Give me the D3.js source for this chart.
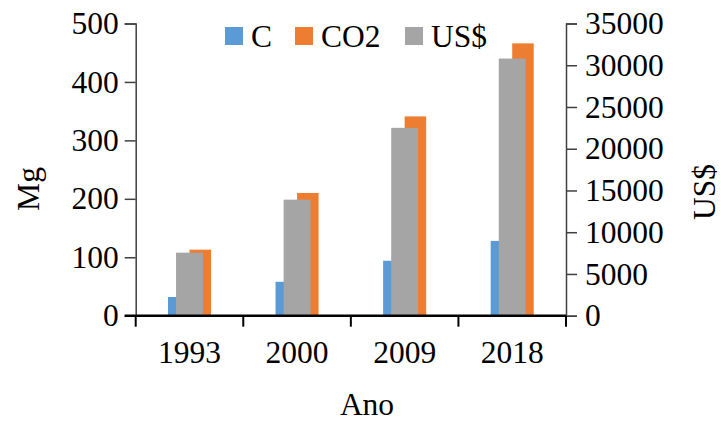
<!DOCTYPE html>
<html>
<head>
<meta charset="utf-8">
<script src="https://cdn.jsdelivr.net/npm/d3@7"></script>
<style>
  body { margin: 0; background: #fff; }
  text { font-family: "Liberation Serif", "Times New Roman", serif; fill: #000; }
</style>
</head>
<body>
<div id="main"></div>
<script>
let years = ["1993", "2000", "2009", "2018"];
let carbon = [32, 58, 94, 128];
let co2 = [113, 210, 341, 466];
let usd = [7550, 13900, 22500, 30800];
let leftTicks = [0, 100, 200, 300, 400, 500];
let rightTicks = [0, 5000, 10000, 15000, 20000, 25000, 30000, 35000];
let seriesNames = ["C", "CO2", "US$"];
let colors = ["#5B9BD5", "#ED7D31", "#A5A5A5"];

let width = 721, height = 421;
let plotLeft = 135.7, plotRight = 566, plotTop = 23.5, plotBottom = 315.7;
let fontSize = 31.5;

let svg = d3.select('#main').append('svg')
    .attr('width', width).attr('height', height);

let x = d3.scaleBand().domain(years).range([plotLeft, plotRight]).padding(0);
let bw = x.bandwidth();
let inner = d3.scaleBand().domain(["C", "CO2"]).range([bw * 0.3, bw * 0.7]).padding(0);

let yLeft = d3.scaleLinear().domain([0, 500]).range([plotBottom, plotTop]);
let yRight = d3.scaleLinear().domain([0, 35000]).range([plotBottom, plotTop]);

// bars: C and CO2 on the left axis
let data = years.map((y, i) => ({ year: y, C: carbon[i], CO2: co2[i], USD: usd[i] }));

let bars = svg.append('g');
["C", "CO2"].forEach((key, k) => {
    bars.selectAll('rect.s' + k)
        .data(data)
        .enter()
        .append('rect')
        .attr('class', 's' + k)
        .attr('x', d => x(d.year) + inner(key))
        .attr('width', inner.bandwidth())
        .attr('y', d => yLeft(d[key]))
        .attr('height', d => plotBottom - yLeft(d[key]))
        .attr('fill', colors[k]);
});

// US$ on the secondary axis, drawn on top
bars.selectAll('rect.usd')
    .data(data)
    .enter()
    .append('rect')
    .attr('class', 'usd')
    .attr('x', d => x(d.year) + bw * 0.375)
    .attr('width', bw * 0.25)
    .attr('y', d => yRight(d.USD))
    .attr('height', d => plotBottom - yRight(d.USD))
    .attr('fill', colors[2]);

// left axis
let gl = svg.append('g')
    .attr('transform', `translate(${plotLeft},0)`)
    .call(d3.axisLeft(yLeft).tickValues(leftTicks).tickSize(11).tickPadding(6));
gl.select('.domain').attr('stroke', '#404040').attr('stroke-width', 1.5);
gl.selectAll('.tick line').attr('stroke', '#404040').attr('stroke-width', 1.5);
gl.selectAll('.tick text').attr('font-size', fontSize).attr('font-family', 'Liberation Serif').attr('fill', '#000');

// right axis
let gr = svg.append('g')
    .attr('transform', `translate(${plotRight},0)`)
    .call(d3.axisRight(yRight).tickValues(rightTicks).tickFormat(d3.format('d')).tickSize(11).tickPadding(8));
gr.select('.domain').attr('stroke', '#404040').attr('stroke-width', 1.5);
gr.selectAll('.tick line').attr('stroke', '#404040').attr('stroke-width', 1.5);
gr.selectAll('.tick text').attr('font-size', fontSize).attr('font-family', 'Liberation Serif').attr('fill', '#000');

// x axis
let gx = svg.append('g')
    .attr('transform', `translate(0,${plotBottom})`)
    .call(d3.axisBottom(x).tickSize(0).tickPadding(25));
gx.select('.domain').remove();
gx.selectAll('.tick text').attr('font-size', fontSize).attr('font-family', 'Liberation Serif').attr('fill', '#000');
gx.append('line')
    .attr('x1', plotLeft - 11).attr('x2', plotRight)
    .attr('stroke', '#000').attr('stroke-width', 2.5);
let edges = years.map(y => x(y)).concat([plotRight]);
gx.selectAll('line.edge')
    .data(edges)
    .enter()
    .append('line')
    .attr('class', 'edge')
    .attr('x1', d => d).attr('x2', d => d)
    .attr('y1', 0).attr('y2', 11)
    .attr('stroke', '#000').attr('stroke-width', 2);

// axis titles
svg.append('text')
    .attr('x', 367).attr('y', 415)
    .attr('text-anchor', 'middle')
    .attr('font-size', fontSize)
    .text('Ano');
svg.append('text')
    .attr('transform', 'translate(39,189) rotate(-90)')
    .attr('text-anchor', 'middle')
    .attr('font-size', fontSize)
    .text('Mg');
svg.append('text')
    .attr('transform', 'translate(715,192) rotate(-90)')
    .attr('text-anchor', 'middle')
    .attr('font-size', fontSize)
    .text('US$');

// legend
let legendX = [225, 295, 405];
let legend = svg.append('g');
seriesNames.forEach((name, i) => {
    legend.append('rect')
        .attr('x', legendX[i]).attr('y', 27)
        .attr('width', 18).attr('height', 18)
        .attr('fill', colors[i]);
    legend.append('text')
        .attr('x', legendX[i] + 26).attr('y', 47)
        .attr('font-size', fontSize)
        .text(name);
});
</script>
</body>
</html>
